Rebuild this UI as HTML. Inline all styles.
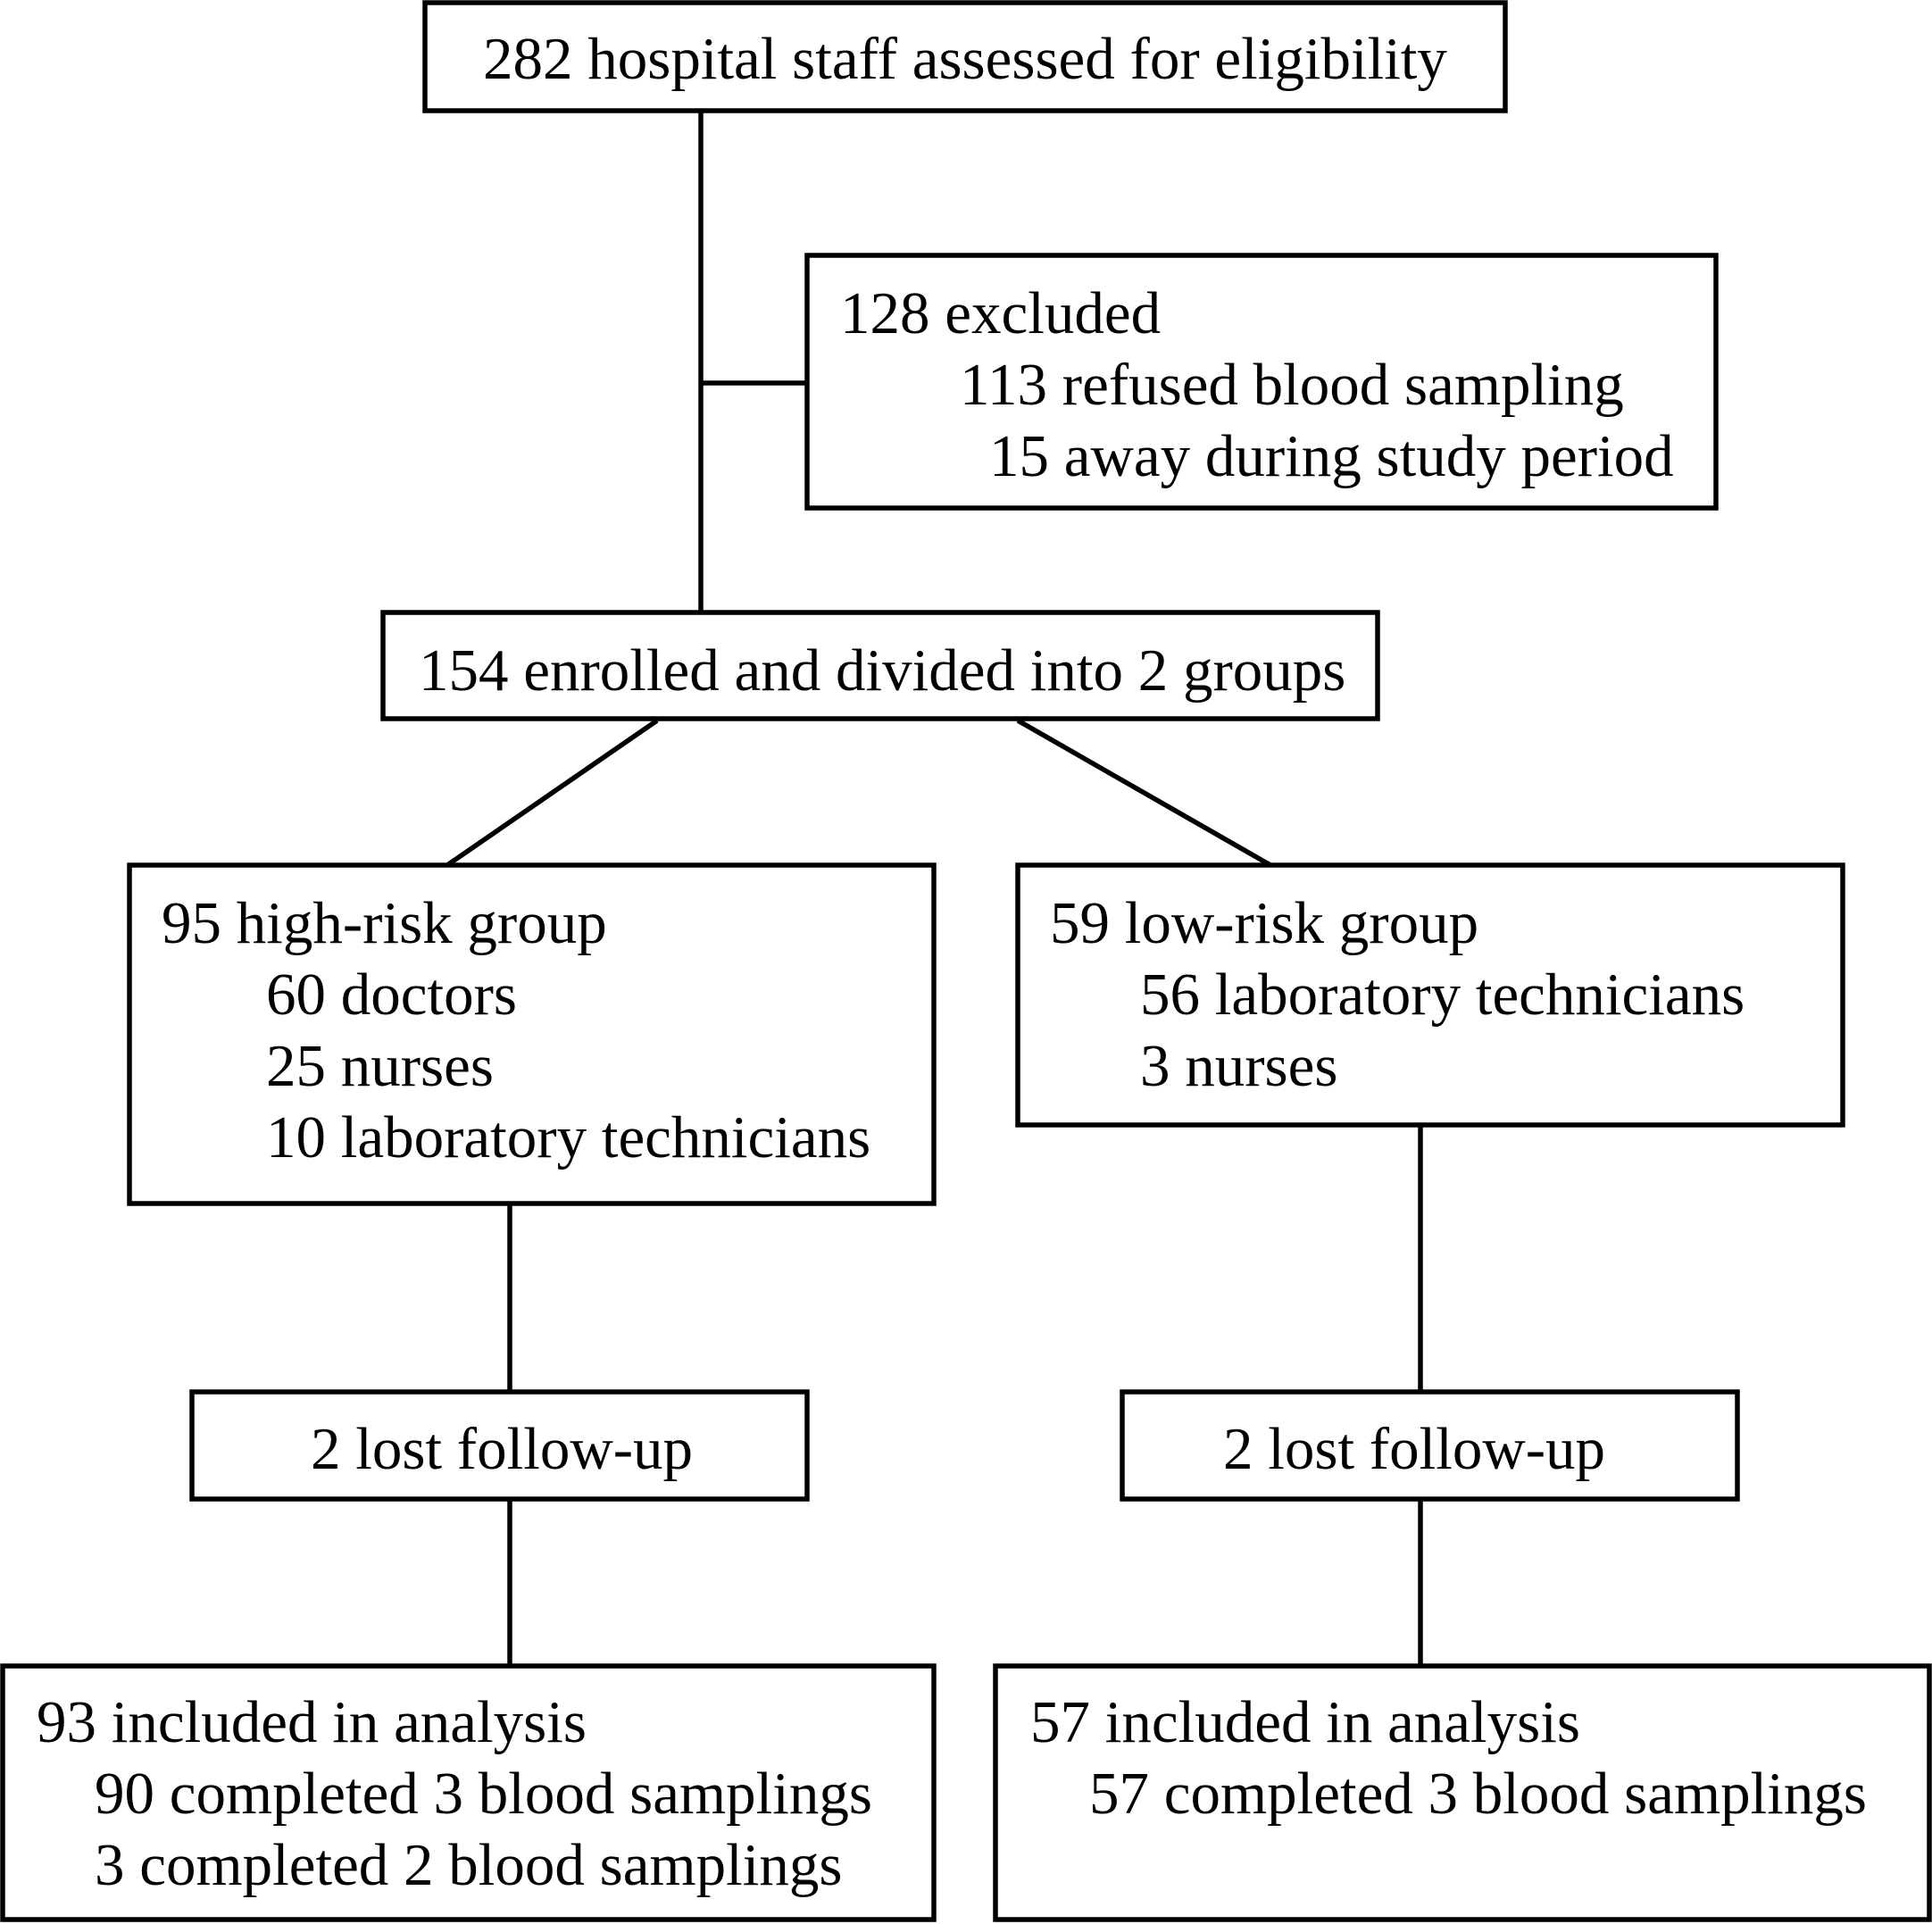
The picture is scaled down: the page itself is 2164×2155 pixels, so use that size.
<!DOCTYPE html>
<html><head><meta charset="utf-8"><style>
html,body{margin:0;padding:0;background:#fff;}
svg{display:block;}
text{font-family:"Liberation Serif",serif;font-size:67px;fill:#000;dominant-baseline:central;}
rect{fill:#fff;stroke:#000;stroke-width:5.5;}
line{stroke:#000;stroke-width:5.5;}
</style></head><body>
<svg width="2164" height="2155" viewBox="0 0 2164 2155">
<g>
<line x1="785" y1="124" x2="785" y2="686"/>
<line x1="785" y1="429" x2="904" y2="429"/>
<line x1="736" y1="807" x2="501" y2="969"/>
<line x1="1140" y1="807" x2="1423" y2="969"/>
<line x1="571" y1="1348" x2="571" y2="1559"/>
<line x1="1591" y1="1260" x2="1591" y2="1559"/>
<line x1="571" y1="1679" x2="571" y2="1866"/>
<line x1="1591" y1="1679" x2="1591" y2="1866"/>
</g>
<g>
<rect x="476" y="3" width="1210" height="121"/>
<text x="541" y="66">282 hospital staff assessed for eligibility</text>
</g>
<g>
<rect x="904" y="286" width="1018" height="283"/>
<text x="941" y="351">128 excluded</text>
<text x="1075" y="431">113 refused blood sampling</text>
<text x="1108" y="511">15 away during study period</text>
</g>
<g>
<rect x="429" y="686" width="1114" height="119"/>
<text x="469" y="751">154 enrolled and divided into 2 groups</text>
</g>
<g>
<rect x="145" y="969" width="901" height="379"/>
<text x="181" y="1034">95 high-risk group</text>
<text x="298" y="1114">60 doctors</text>
<text x="298" y="1194">25 nurses</text>
<text x="298" y="1274">10 laboratory technicians</text>
</g>
<g>
<rect x="1140" y="969" width="924" height="291"/>
<text x="1176" y="1034">59 low-risk group</text>
<text x="1277" y="1114">56 laboratory technicians</text>
<text x="1277" y="1194">3 nurses</text>
</g>
<g>
<rect x="215" y="1559" width="689" height="120"/>
<text x="348" y="1623">2 lost follow-up</text>
</g>
<g>
<rect x="1257" y="1559" width="689" height="120"/>
<text x="1370" y="1623">2 lost follow-up</text>
</g>
<g>
<rect x="3" y="1866" width="1043" height="284"/>
<text x="41" y="1929">93 included in analysis</text>
<text x="106" y="2009">90 completed 3 blood samplings</text>
<text x="106" y="2089">3 completed 2 blood samplings</text>
</g>
<g>
<rect x="1115" y="1866" width="1046" height="284"/>
<text x="1154" y="1929">57 included in analysis</text>
<text x="1220" y="2009">57 completed 3 blood samplings</text>
</g>
</svg>
</body></html>
